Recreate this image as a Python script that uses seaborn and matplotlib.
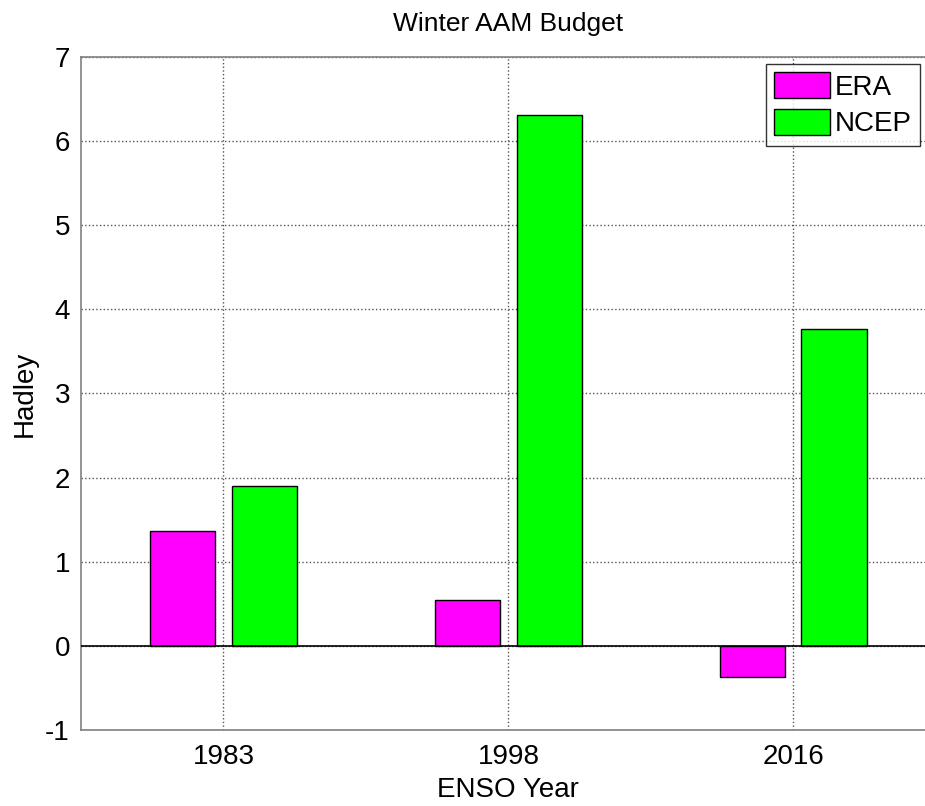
import pandas as pd
import numpy as np
import matplotlib
matplotlib.use('Agg')
import matplotlib.pyplot as plt
import seaborn as sns

# Values
years = ['1983', '1998', '2016']
era = [1.37, 0.55, -0.37]
ncep = [1.90, 6.31, 3.77]
series = ['ERA', 'NCEP']
colors = {'ERA': '#ff00ff', 'NCEP': '#00ff00'}

df = pd.DataFrame({
    'year': years * 2,
    'value': era + ncep,
    'source': ['ERA'] * len(years) + ['NCEP'] * len(years),
})

sns.set_style('white')
plt.rcParams['font.family'] = ['Liberation Sans', 'DejaVu Sans']
plt.rcParams['text.color'] = 'black'
plt.rcParams['axes.labelcolor'] = 'black'
plt.rcParams['xtick.color'] = 'black'
plt.rcParams['ytick.color'] = 'black'

fig = plt.figure(figsize=(9.25, 8.06), dpi=100)
ax = fig.add_axes([0.0876, 0.0943, 0.924, 0.835])

sns.barplot(data=df, x='year', y='value', hue='source', hue_order=series,
            palette=colors, width=0.572, gap=0.2, edgecolor='black',
            linewidth=1.0, saturation=1, ax=ax, zorder=3)

ax.axhline(0, color='black', linewidth=1.2, zorder=4)

ax.set_xlim(-0.5, 2.5)
ax.set_ylim(-1, 7)
ax.set_yticks(range(-1, 8))
ax.set_yticklabels([str(v) for v in range(-1, 8)])

ax.grid(True, linestyle=':', color='#555555', linewidth=1.0, zorder=0)
ax.set_axisbelow(True)
for side in ['left', 'bottom', 'top', 'right']:
    ax.spines[side].set_color('#808080')
    ax.spines[side].set_linewidth(1.2)

ax.tick_params(axis='both', direction='in', length=7, color='#808080',
               labelcolor='black', labelsize=20)
ax.tick_params(axis='x', pad=10)
ax.tick_params(axis='y', pad=8)

ax.set_title('Winter AAM Budget', fontsize=19, pad=19, color='black')
ax.set_xlabel('ENSO Year', fontsize=20, labelpad=5)
ax.set_ylabel('Hadley', fontsize=20, labelpad=5)

leg = ax.legend(loc='upper left', bbox_to_anchor=(0.801, 0.9896),
                fontsize=20, frameon=True, fancybox=False, edgecolor='black',
                handlelength=2.0, handleheight=1.05, handletextpad=0.18,
                borderpad=0.3, labelspacing=0.3, borderaxespad=0)
leg.get_frame().set_linewidth(1.0)
for t in leg.get_texts():
    t.set_color('black')

fig.savefig('out.png', dpi=100)
